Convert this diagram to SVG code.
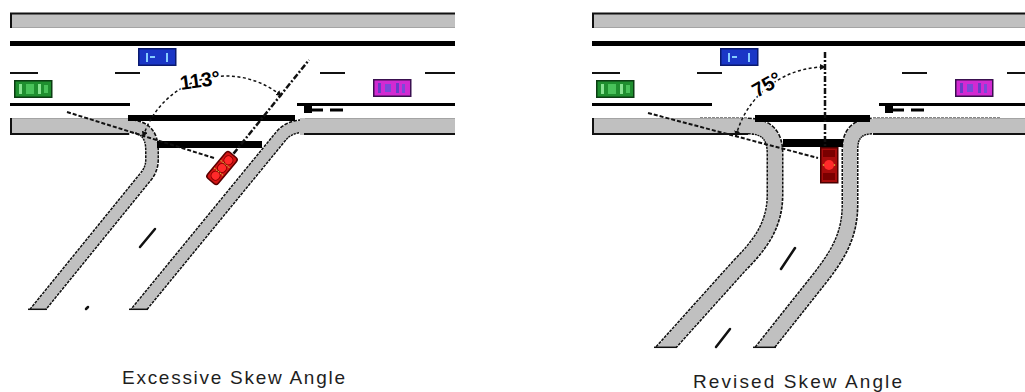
<svg xmlns="http://www.w3.org/2000/svg" width="1025" height="392" viewBox="0 0 1025 392">
  <style>
    .shoulder{fill:#c0c0c0}
    .edge{stroke:#111;stroke-width:2;fill:none}
    .edge-lt{stroke:#a4a4a4;stroke-width:1;fill:none}
    .median{stroke:#000;stroke-width:5}
    .lane{stroke:#111;stroke-width:2}
    .laneline{stroke:#000;stroke-width:3}
    .curb-out{fill:none;stroke:#111;stroke-dasharray:3 1;stroke-linejoin:round}
    .curb-in{fill:none;stroke:#c0c0c0;stroke-linejoin:round}
    .cap{stroke:#111;stroke-width:1.5}
    .cl{stroke:#111;stroke-width:2.5;stroke-linecap:round}
    .bar{fill:#000}
    .ref{fill:none;stroke:#111;stroke-width:2;stroke-dasharray:4 2}
    .axis{fill:none;stroke:#111;stroke-width:2.5;stroke-dasharray:6 2 2 2}
    .arc{fill:none;stroke:#111;stroke-width:1.5;stroke-dasharray:3 2.5}
    .angle{font-family:"Liberation Sans",Arial,sans-serif;font-weight:bold;font-size:20px;fill:#000;stroke:#fff;stroke-width:3;paint-order:stroke}
    .caption{font-family:"Liberation Sans",Arial,sans-serif;font-size:19px;fill:#1e1e1e}
  </style>
  <defs>
    <marker id="tip" viewBox="0 0 6 6" refX="5" refY="3" markerWidth="6" markerHeight="6" markerUnits="userSpaceOnUse" orient="auto-start-reverse">
      <path d="M0,0 L6,3 L0,6 z" fill="#111"/>
    </marker>
    <clipPath id="clipL"><rect x="0" y="0" width="470" height="310"/></clipPath>
    <clipPath id="clipR"><rect x="560" y="0" width="465" height="348"/></clipPath>
    <!-- top-view car icons, 38 x 18 -->
    <g id="carGreen">
      <rect x="0.75" y="0.75" width="37" height="16.5" fill="#1f8f2f" stroke="#0b3d12" stroke-width="1.5"/>
      <rect x="5" y="4" width="3" height="10" fill="#86e290"/>
      <rect x="12" y="4" width="8" height="10" fill="#49c25a"/>
      <rect x="24" y="4" width="3" height="10" fill="#86e290"/>
      <rect x="30" y="5" width="4" height="8" fill="#49c25a"/>
    </g>
    <g id="carBlue">
      <rect x="0.75" y="0.75" width="37" height="16.5" fill="#1a36c6" stroke="#0a1a70" stroke-width="1.5"/>
      <rect x="8" y="5" width="2" height="9" fill="#86cdff"/>
      <rect x="12" y="8" width="5" height="2" fill="#86cdff"/>
      <rect x="28" y="5" width="2" height="9" fill="#86cdff"/>
    </g>
    <g id="carMagenta">
      <rect x="0.75" y="0.75" width="37" height="16.5" fill="#d22ad2" stroke="#3a1050" stroke-width="1.5"/>
      <rect x="5" y="4" width="3" height="10" fill="#6a3cc8"/>
      <rect x="12" y="5" width="6" height="8" fill="#7a4ad8"/>
      <rect x="23" y="4" width="3" height="10" fill="#6a3cc8"/>
      <rect x="29" y="5" width="3" height="9" fill="#7a4ad8"/>
    </g>
  </defs>

  <!-- ===== Left layout: excessive skew ===== -->
  <g id="road-left">
    <rect class="shoulder" x="10" y="13" width="445" height="15"/>
    <line class="edge" x1="10" y1="13.5" x2="455" y2="13.5" stroke-width="1.5"/>
    <line class="edge-lt" x1="10" y1="27.5" x2="455" y2="27.5"/>
    <line class="edge" x1="11" y1="13" x2="11" y2="28"/>
    <line class="median" x1="10" y1="43.5" x2="455" y2="43.5"/>
    <g class="lane">
      <line x1="10" y1="73" x2="38" y2="73"/>
      <line x1="115" y1="73" x2="140" y2="73"/>
      <line x1="320" y1="73" x2="345" y2="73"/>
      <line x1="425" y1="73" x2="455" y2="73"/>
    </g>
    <line class="laneline" x1="10" y1="104.5" x2="130" y2="104.5"/>
    <line class="laneline" x1="297" y1="104.5" x2="455" y2="104.5"/>
    <g fill="#000">
      <rect x="304" y="106" width="8" height="7"/>
      <rect x="304" y="108.5" width="19" height="3"/>
      <rect x="330" y="108.5" width="13" height="3"/>
    </g>
    <!-- side road curbs -->
    <g clip-path="url(#clipL)">
      <path class="curb-out" stroke-width="14" d="M100,126 L128,126 Q152,126 152,150 L152,160 Q152,168 147,175 L35,313"/>
      <path class="curb-out" stroke-width="14" d="M330,126 L305,126 Q289.2,126 281,136 L136,313"/>
    </g>
    <rect class="shoulder" x="10" y="118" width="120" height="17"/>
    <rect class="shoulder" x="300" y="118" width="155" height="17"/>
    <g clip-path="url(#clipL)">
      <path class="curb-in" stroke-width="11" d="M100,126 L128,126 Q152,126 152,150 L152,160 Q152,168 147,175 L35,313"/>
      <path class="curb-in" stroke-width="11" d="M330,126 L305,126 Q289.2,126 281,136 L136,313"/>
    </g>
    <line class="edge-lt" x1="10" y1="118.5" x2="128" y2="118.5"/>
    <line class="edge-lt" x1="305" y1="118.5" x2="455" y2="118.5"/>
    <line class="edge" x1="10" y1="134" x2="129" y2="134"/>
    <line class="edge" x1="304" y1="134" x2="455" y2="134"/>
    <line class="edge" x1="11" y1="118" x2="11" y2="135"/>
    <line class="cap" x1="28" y1="309.3" x2="47" y2="309.3"/>
    <line class="cap" x1="129" y1="309.3" x2="148" y2="309.3"/>
    <line class="cl" x1="155" y1="229" x2="140" y2="247"/>
    <line class="cl" x1="88" y1="307" x2="86" y2="309"/>
    <rect class="bar" x="128" y="115" width="167" height="6"/>
    <rect class="bar" x="157" y="141" width="105" height="7"/>
  </g>

  <g id="angle-left">
    <path class="ref" d="M67,112 L214,158"/>
    <path class="axis" d="M226,163 L309,60"/>
    <path class="arc" d="M143.2,136.5 A87,87 0 0 1 281.2,95.7" marker-start="url(#tip)" marker-end="url(#tip)"/>
    <text class="angle" x="181" y="90" transform="rotate(-8 181 90)">113°</text>
  </g>

  <g id="car-green-left"><use href="#carGreen" x="14" y="80"/></g>
  <g id="car-blue-left"><use href="#carBlue" x="138" y="48"/></g>
  <g id="car-magenta-left"><use href="#carMagenta" x="373" y="79"/></g>
  <g id="car-red-left" transform="translate(222 168) rotate(40)">
    <rect x="-7" y="-17" width="14" height="34" rx="3" fill="#d41414" stroke="#5a0000" stroke-width="1.5"/>
    <circle cx="0" cy="-10" r="4.5" fill="#ff2a2a" stroke="#8a0000" stroke-width="1"/>
    <circle cx="0" cy="0" r="4.5" fill="#ff2a2a" stroke="#8a0000" stroke-width="1"/>
    <circle cx="0" cy="10" r="4.5" fill="#ff2a2a" stroke="#8a0000" stroke-width="1"/>
    <line x1="-6" y1="-5" x2="6" y2="-5" stroke="#c8c040" stroke-width="1" stroke-dasharray="1.5 1"/>
    <line x1="-6" y1="5" x2="6" y2="5" stroke="#c8c040" stroke-width="1" stroke-dasharray="1.5 1"/>
  </g>

  <text class="caption" x="233.5" y="384" text-anchor="middle" textLength="223" lengthAdjust="spacing">Excessive Skew Angle</text>

  <!-- ===== Right layout: revised skew ===== -->
  <g id="road-right">
    <rect class="shoulder" x="592" y="13" width="433" height="15"/>
    <line class="edge" x1="592" y1="13.5" x2="1025" y2="13.5" stroke-width="1.5"/>
    <line class="edge-lt" x1="592" y1="27.5" x2="1025" y2="27.5"/>
    <line class="edge" x1="593" y1="13" x2="593" y2="28"/>
    <line class="median" x1="592" y1="43.5" x2="1025" y2="43.5"/>
    <g class="lane">
      <line x1="592" y1="73" x2="620" y2="73"/>
      <line x1="697" y1="73" x2="722" y2="73"/>
      <line x1="902" y1="73" x2="927" y2="73"/>
      <line x1="1007" y1="73" x2="1025" y2="73"/>
    </g>
    <line class="laneline" x1="592" y1="104.5" x2="712" y2="104.5"/>
    <line class="laneline" x1="879" y1="104.5" x2="1025" y2="104.5"/>
    <g fill="#000">
      <rect x="885" y="106" width="8" height="7"/>
      <rect x="885" y="108.5" width="19" height="3"/>
      <rect x="911" y="108.5" width="13" height="3"/>
    </g>
    <g clip-path="url(#clipR)">
      <path class="curb-out" stroke-width="17" d="M700,126 L748,126 Q775,126 775,153 L775,195 C775,225 760,245 740,265 L660,354"/>
      <path class="curb-out" stroke-width="17" d="M1000,126 L873,126 Q850,126 850,149 L850,205 C850,235 838,255 820,278 L758,356"/>
    </g>
    <rect class="shoulder" x="592" y="118" width="156" height="17"/>
    <rect class="shoulder" x="873" y="118" width="152" height="17"/>
    <g clip-path="url(#clipR)">
      <path class="curb-in" stroke-width="14" d="M700,126 L748,126 Q775,126 775,153 L775,195 C775,225 760,245 740,265 L660,354"/>
      <path class="curb-in" stroke-width="14" d="M1000,126 L873,126 Q850,126 850,149 L850,205 C850,235 838,255 820,278 L758,356"/>
    </g>
    <line class="edge-lt" x1="592" y1="118.5" x2="748" y2="118.5"/>
    <line class="edge-lt" x1="873" y1="118.5" x2="1025" y2="118.5"/>
    <line class="edge" x1="592" y1="134" x2="748" y2="134"/>
    <line class="edge" x1="873" y1="134" x2="1025" y2="134"/>
    <line class="edge" x1="593" y1="118" x2="593" y2="135"/>
    <line class="cap" x1="654" y1="347.3" x2="677" y2="347.3"/>
    <line class="cap" x1="753" y1="347.3" x2="776" y2="347.3"/>
    <line class="cl" x1="795" y1="248" x2="781" y2="269"/>
    <line class="cl" x1="730" y1="329" x2="716" y2="347"/>
    <rect class="bar" x="755" y="115" width="115" height="7"/>
    <rect class="bar" x="783" y="139" width="60" height="8"/>
  </g>

  <g id="angle-right">
    <path class="ref" d="M648,113 L818,158"/>
    <path class="axis" d="M825,52 L825,150" stroke-dasharray="8 4"/>
    <path class="arc" d="M736,135.9 A92,92 0 0 1 825,67" marker-start="url(#tip)" marker-end="url(#tip)"/>
    <text class="angle" x="757" y="98" transform="rotate(-30 757 98)">75°</text>
  </g>

  <g id="car-green-right"><use href="#carGreen" x="596" y="80"/></g>
  <g id="car-blue-right"><use href="#carBlue" x="720" y="48"/></g>
  <g id="car-magenta-right"><use href="#carMagenta" x="955" y="79"/></g>
  <g id="car-red-right">
    <rect x="820.75" y="147.75" width="17" height="35" fill="#a80c0c" stroke="#4a0000" stroke-width="1.5"/>
    <rect x="823" y="150" width="12" height="7" fill="#7a0000"/>
    <ellipse cx="829" cy="165" rx="5" ry="5" fill="#ff2a2a"/>
    <rect x="823" y="173" width="12" height="7" fill="#7a0000"/>
    <circle cx="823.5" cy="165" r="0.8" fill="#e0d040"/>
    <circle cx="834.5" cy="165" r="0.8" fill="#e0d040"/>
  </g>

  <text class="caption" x="797.5" y="388" text-anchor="middle" textLength="209" lengthAdjust="spacing">Revised Skew Angle</text>
</svg>
